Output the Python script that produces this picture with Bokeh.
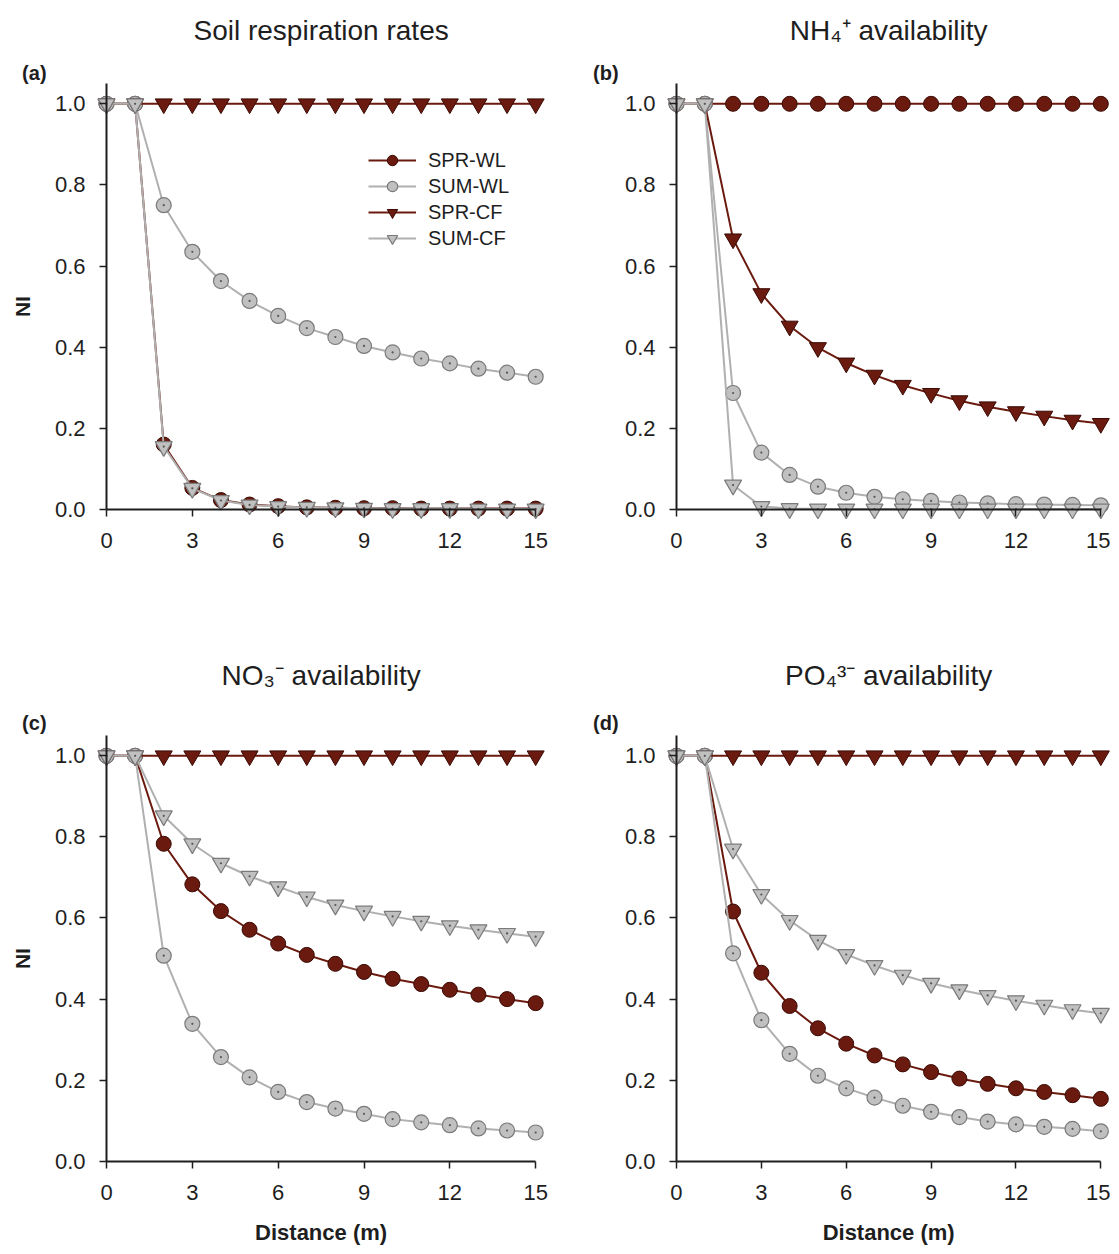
import math
from bokeh.plotting import figure
from bokeh.models import (Range1d, FixedTicker, Label, Legend, LegendItem,
                          PrintfTickFormatter)
from bokeh.layouts import column, row
from bokeh.embed import file_html
from bokeh.resources import INLINE

# ---------------- data ----------------
distance = [0, 1, 2, 3, 4, 5, 6, 7, 8, 9, 10, 11, 12, 13, 14, 15]
series_names = ["SPR-WL", "SUM-WL", "SPR-CF", "SUM-CF"]

# (a) Soil respiration rates
a_spr_wl = [1.0, 1.0, 0.160, 0.053, 0.023, 0.012, 0.008, 0.005, 0.004, 0.003, 0.003, 0.002, 0.002, 0.002, 0.002, 0.002]
a_sum_wl = [1.0, 1.0, 0.750, 0.635, 0.563, 0.514, 0.477, 0.447, 0.425, 0.403, 0.387, 0.372, 0.360, 0.347, 0.337, 0.327]
a_spr_cf = [1.0, 1.0, 1.0, 1.0, 1.0, 1.0, 1.0, 1.0, 1.0, 1.0, 1.0, 1.0, 1.0, 1.0, 1.0, 1.0]
a_sum_cf = [1.0, 1.0, 0.155, 0.052, 0.022, 0.011, 0.007, 0.005, 0.004, 0.003, 0.002, 0.002, 0.002, 0.001, 0.001, 0.001]

# (b) NH4+ availability
b_spr_wl = [1.0, 1.0, 1.0, 1.0, 1.0, 1.0, 1.0, 1.0, 1.0, 1.0, 1.0, 1.0, 1.0, 1.0, 1.0, 1.0]
b_sum_wl = [1.0, 1.0, 0.287, 0.140, 0.085, 0.056, 0.041, 0.031, 0.025, 0.021, 0.017, 0.015, 0.013, 0.012, 0.011, 0.010]
b_spr_cf = [1.0, 1.0, 0.667, 0.532, 0.452, 0.399, 0.361, 0.331, 0.306, 0.286, 0.268, 0.253, 0.241, 0.230, 0.220, 0.212]
b_sum_cf = [1.0, 1.0, 0.060, 0.007, 0.002, 0.001, 0.001, 0.001, 0.001, 0.001, 0.001, 0.001, 0.001, 0.001, 0.001, 0.001]

# (c) NO3- availability
c_spr_wl = [1.0, 1.0, 0.783, 0.683, 0.617, 0.571, 0.537, 0.509, 0.487, 0.467, 0.450, 0.437, 0.423, 0.411, 0.400, 0.390]
c_sum_wl = [1.0, 1.0, 0.507, 0.339, 0.257, 0.207, 0.171, 0.146, 0.130, 0.117, 0.104, 0.096, 0.089, 0.081, 0.076, 0.071]
c_spr_cf = [1.0, 1.0, 1.0, 1.0, 1.0, 1.0, 1.0, 1.0, 1.0, 1.0, 1.0, 1.0, 1.0, 1.0, 1.0, 1.0]
c_sum_cf = [1.0, 1.0, 0.852, 0.783, 0.735, 0.703, 0.677, 0.652, 0.632, 0.617, 0.604, 0.592, 0.581, 0.571, 0.562, 0.554]

# (d) PO4 3- availability
d_spr_wl = [1.0, 1.0, 0.616, 0.465, 0.383, 0.328, 0.290, 0.261, 0.239, 0.220, 0.204, 0.191, 0.180, 0.171, 0.163, 0.154]
d_sum_wl = [1.0, 1.0, 0.513, 0.348, 0.265, 0.211, 0.180, 0.157, 0.137, 0.122, 0.109, 0.098, 0.091, 0.085, 0.080, 0.074]
d_spr_cf = [1.0, 1.0, 1.0, 1.0, 1.0, 1.0, 1.0, 1.0, 1.0, 1.0, 1.0, 1.0, 1.0, 1.0, 1.0, 1.0]
d_sum_cf = [1.0, 1.0, 0.770, 0.658, 0.594, 0.545, 0.510, 0.483, 0.459, 0.439, 0.423, 0.409, 0.396, 0.385, 0.374, 0.365]

x_ticks = [0, 3, 6, 9, 12, 15]
y_ticks = [0.0, 0.2, 0.4, 0.6, 0.8, 1.0]

titles = ["Soil respiration rates", "NH\u2084\u207a availability",
          "NO\u2083\u207b availability", "PO\u2084\u00b3\u207b availability"]
letters = ["(a)", "(b)", "(c)", "(d)"]
y_label = "NI"
x_label = "Distance (m)"

# ---------------- style ----------------
FONT = "Liberation Sans"
DARK = "#6b1a0f"
DARK_EDGE = "#3a0a04"
GRAY_LINE = "#b0b0b0"
GRAY_FILL = "#c0c0c0"
GRAY_EDGE = "#7a7a7a"
TEXT = "#1e1e1e"

# visible window of each panel (frame fills the whole figure; axes sit at 0)
X_WIN_LEFT = (-3.705, 15.868)
X_WIN_RIGHT = (-4.100, 15.342)
Y_WIN_TOP = (-0.2246, 1.2547)
Y_WIN_BOTTOM = (-0.220, 1.383)


def make_panel(idx, data, left, top, with_legend=False):
    width = 560 if left else 550
    height = 600 if top else 650
    xw = X_WIN_LEFT if left else X_WIN_RIGHT
    yw = Y_WIN_TOP if top else Y_WIN_BOTTOM
    p = figure(width=width, height=height, output_backend="svg",
               toolbar_location=None,
               x_range=Range1d(*xw), y_range=Range1d(*yw),
               min_border=0, min_border_left=0, min_border_right=0,
               min_border_top=0, min_border_bottom=0)
    p.outline_line_color = None
    p.xgrid.visible = False
    p.ygrid.visible = False

    for ax in (p.xaxis, p.yaxis):
        ax.fixed_location = 0
        ax.axis_line_width = 2
        ax.axis_line_color = TEXT
        ax.major_tick_line_color = TEXT
        ax.major_tick_line_width = 1.5
        ax.major_tick_out = 7
        ax.major_tick_in = 0
        ax.minor_tick_line_color = None
        ax.major_label_text_font = FONT
        ax.major_label_text_font_size = "22px"
        ax.major_label_text_color = TEXT
    p.xaxis.bounds = (0, 15)
    p.yaxis.bounds = (0, 1.05)
    p.xaxis.ticker = FixedTicker(ticks=x_ticks, minor_ticks=[])
    p.yaxis.ticker = FixedTicker(ticks=y_ticks, minor_ticks=[])
    p.yaxis.formatter = PrintfTickFormatter(format="%.1f")
    p.xaxis.major_label_standoff = 17
    p.yaxis.major_label_standoff = 14

    spr_wl, sum_wl, spr_cf, sum_cf = data
    items = []

    # SPR-WL
    l1 = p.line(distance, spr_wl, line_color=DARK, line_width=2)
    s1 = p.scatter(distance, spr_wl, marker="circle", size=15,
                   fill_color=DARK, line_color=DARK_EDGE, line_width=1)
    items.append(LegendItem(label=series_names[0], renderers=[l1, s1]))
    # SUM-WL
    l2 = p.line(distance, sum_wl, line_color=GRAY_LINE, line_width=2)
    s2 = p.scatter(distance, sum_wl, marker="circle", size=15,
                   fill_color=GRAY_FILL, line_color=GRAY_EDGE, line_width=1.2)
    p.scatter(distance, sum_wl, marker="circle", size=2.2,
              fill_color="#555555", line_color=None)
    items.append(LegendItem(label=series_names[1], renderers=[l2, s2]))
    # SPR-CF
    l3 = p.line(distance, spr_cf, line_color=DARK, line_width=2)
    s3 = p.scatter(distance, spr_cf, marker="inverted_triangle", size=17,
                   fill_color=DARK, line_color=DARK_EDGE, line_width=1)
    items.append(LegendItem(label=series_names[2], renderers=[l3, s3]))
    # SUM-CF
    l4 = p.line(distance, sum_cf, line_color=GRAY_LINE, line_width=2)
    s4 = p.scatter(distance, sum_cf, marker="inverted_triangle", size=17,
                   fill_color=GRAY_FILL, line_color=GRAY_EDGE, line_width=1.2)
    p.scatter(distance, sum_cf, marker="circle", size=2.2,
              fill_color="#555555", line_color=None)
    items.append(LegendItem(label=series_names[3], renderers=[l4, s4]))

    if with_legend:
        lg = Legend(items=items, location=(368, 349))
        lg.border_line_color = None
        lg.background_fill_alpha = 0
        lg.padding = 0
        lg.margin = 0
        lg.spacing = 0
        lg.glyph_width = 48
        lg.glyph_height = 26
        lg.label_height = 26
        lg.label_standoff = 12
        lg.label_text_font = FONT
        lg.label_text_font_size = "20px"
        lg.label_text_color = TEXT
        p.add_layout(lg)

    # panel title
    p.add_layout(Label(x=7.5, y=1.181 if top else 1.198, text=titles[idx],
                       text_align="center", text_baseline="middle",
                       text_font=FONT, text_font_size="28px",
                       text_color=TEXT))
    # panel letter
    p.add_layout(Label(x=-2.95, y=1.076 if top else 1.081, text=letters[idx],
                       text_align="left", text_baseline="middle",
                       text_font=FONT, text_font_size="20px",
                       text_font_style="bold", text_color=TEXT))
    if left:
        p.add_layout(Label(x=-2.95, y=0.5, text=y_label, angle=math.pi / 2,
                           text_align="center", text_baseline="middle",
                           text_font=FONT, text_font_size="21px",
                           text_font_style="bold", text_color=TEXT))
    if not top:
        p.add_layout(Label(x=7.5, y=-0.176, text=x_label,
                           text_align="center", text_baseline="middle",
                           text_font=FONT, text_font_size="22px",
                           text_font_style="bold", text_color=TEXT))
    return p


pa = make_panel(0, (a_spr_wl, a_sum_wl, a_spr_cf, a_sum_cf), True, True, with_legend=True)
pb = make_panel(1, (b_spr_wl, b_sum_wl, b_spr_cf, b_sum_cf), False, True)
pc = make_panel(2, (c_spr_wl, c_sum_wl, c_spr_cf, c_sum_cf), True, False)
pd = make_panel(3, (d_spr_wl, d_sum_wl, d_spr_cf, d_sum_cf), False, False)

layout = column(row(pa, pb), row(pc, pd))

with open("out.html", "w") as f:
    f.write(file_html(layout, INLINE))
